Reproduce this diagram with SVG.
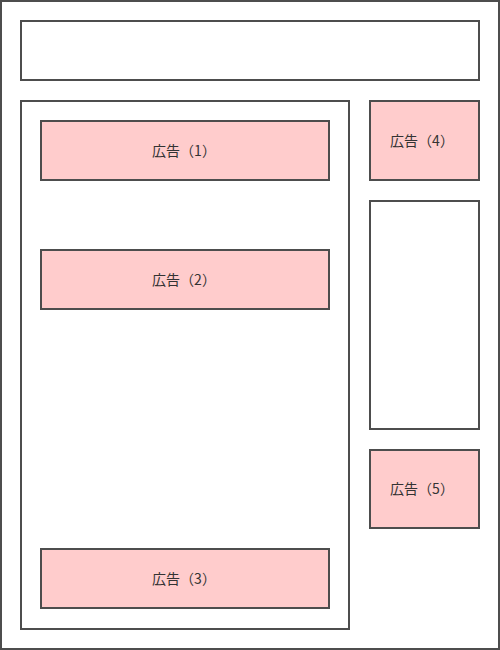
<svg xmlns="http://www.w3.org/2000/svg" width="500" height="650" viewBox="0 0 500 650">
<style>
.box{fill:#ffffff;stroke:#4d4d4d;stroke-width:2}
.ad{fill:#ffcccc;stroke:#4d4d4d;stroke-width:2}
.t{font-family:"Noto Sans CJK JP","Noto Sans CJK SC",sans-serif;font-size:14px;fill:#333333;text-anchor:middle;dominant-baseline:central}
</style>
<rect width="500" height="650" fill="#ffffff"/>
<g id="page"><rect class="box" x="1" y="1" width="498" height="648"/></g>
<g id="header"><rect class="box" x="21" y="21" width="458" height="59"/></g>
<g id="main"><rect class="box" x="21" y="101" width="328" height="528"/></g>
<g id="ad1"><rect class="ad" x="41" y="121" width="288" height="59"/><text class="t" x="184" y="150">広告（1）</text></g>
<g id="ad2"><rect class="ad" x="41" y="250" width="288" height="59"/><text class="t" x="184" y="279">広告（2）</text></g>
<g id="ad3"><rect class="ad" x="41" y="549" width="288" height="59"/><text class="t" x="184" y="578">広告（3）</text></g>
<g id="ad4"><rect class="ad" x="370" y="101" width="109" height="79"/><text class="t" x="422" y="140">広告（4）</text></g>
<g id="side"><rect class="box" x="370" y="201" width="109" height="228"/></g>
<g id="ad5"><rect class="ad" x="370" y="450" width="109" height="78"/><text class="t" x="422" y="488">広告（5）</text></g>
<g id="connectors"></g>
</svg>
